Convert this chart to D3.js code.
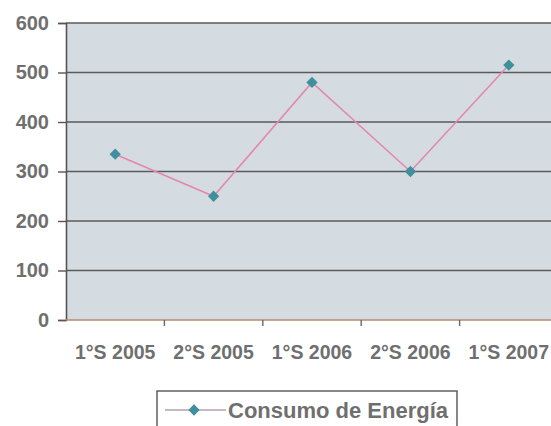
<!DOCTYPE html>
<html>
<head>
<meta charset="utf-8">
<script src="https://cdn.jsdelivr.net/npm/d3@7"></script>
<style>
  body { margin: 0; background: #fff; }
  svg { display: block; }
  text { font-family: "Liberation Sans", Arial, sans-serif; font-weight: bold; fill: #6f6f6f; }
</style>
</head>
<body>
<svg width="551" height="426"></svg>
<script>
var categories = ['1°S 2005', '2°S 2005', '1°S 2006', '2°S 2006', '1°S 2007'];
var consumo = [335, 250, 480, 300, 515];
var yTicks = [0, 100, 200, 300, 400, 500, 600];
var seriesName = 'Consumo de Energía';

var svg = d3.select('svg'),
  pLeft = 66, pRight = 558, pTop = 23, pBottom = 320;

var x = d3.scaleBand().domain(categories).range([pLeft, pRight]);
var y = d3.scaleLinear().domain([0, 600]).range([pBottom, pTop]);

// plot area
svg.append('rect')
  .attr('x', pLeft).attr('y', pTop)
  .attr('width', pRight - pLeft).attr('height', pBottom - pTop)
  .attr('fill', '#d5dce1');

// gridlines
svg.append('g').selectAll('line').data(yTicks.slice(1)).join('line')
  .attr('x1', pLeft).attr('x2', pRight)
  .attr('y1', function (d) { return y(d) }).attr('y2', function (d) { return y(d) })
  .attr('stroke', '#5a5a5a').attr('stroke-width', 1.6);

// y axis
var ya = svg.append('g').attr('transform', 'translate(' + pLeft + ',0)')
  .call(d3.axisLeft(y).tickValues(yTicks).tickSize(8).tickPadding(9));
ya.select('.domain').attr('stroke', '#555').attr('stroke-width', 1.6);
ya.selectAll('.tick line').attr('stroke', '#555').attr('stroke-width', 1.4);
ya.selectAll('text').style('font-size', '20px').style('font-family', null).attr('fill', '#6f6f6f');

// x axis, ticks between categories
var xa = svg.append('g').attr('transform', 'translate(0,' + pBottom + ')');
xa.append('line').attr('x1', pLeft).attr('x2', pRight).attr('y1', 0).attr('y2', 0)
  .attr('stroke', '#b88a6e').attr('stroke-width', 1.6);
xa.selectAll('.tk').data(categories.slice(1)).join('line').attr('class', 'tk')
  .attr('x1', function (d) { return x(d) }).attr('x2', function (d) { return x(d) })
  .attr('y1', 0).attr('y2', 6).attr('stroke', '#666').attr('stroke-width', 1.4);
xa.selectAll('text').data(categories).join('text')
  .attr('x', function (d) { return x(d) + x.bandwidth() / 2 })
  .attr('y', 39)
  .attr('text-anchor', 'middle')
  .style('font-size', '19.5px')
  .text(function (d) { return d });

// series line
var line = d3.line()
  .x(function (d, i) { return x(categories[i]) + x.bandwidth() / 2 })
  .y(function (d) { return y(d) });
svg.append('path').datum(consumo)
  .attr('d', line).attr('fill', 'none')
  .attr('stroke', '#e486b0').attr('stroke-width', 1.6);

// square marker turned 45 degrees
var diamond = d3.symbol().type(d3.symbolSquare).size(64);
svg.append('g').selectAll('path').data(consumo).join('path')
  .attr('d', diamond)
  .attr('transform', function (d, i) {
    return 'translate(' + (x(categories[i]) + x.bandwidth() / 2) + ',' + y(d) + ') rotate(45)'
  })
  .attr('fill', '#3f8f9c');

// legend
var lg = svg.append('g');
lg.append('rect').attr('x', 157).attr('y', 391).attr('width', 300).attr('height', 44)
  .attr('fill', '#fff').attr('stroke', '#555').attr('stroke-width', 1.4);
lg.append('line').attr('x1', 165).attr('x2', 226).attr('y1', 410).attr('y2', 410)
  .attr('stroke', '#b0a0b0').attr('stroke-width', 1.4);
lg.append('path').attr('d', diamond).attr('transform', 'translate(194,410) rotate(45)').attr('fill', '#3f8f9c');
lg.append('text').attr('x', 228).attr('y', 418).style('font-size', '22px').text(seriesName);
</script>
</body>
</html>
